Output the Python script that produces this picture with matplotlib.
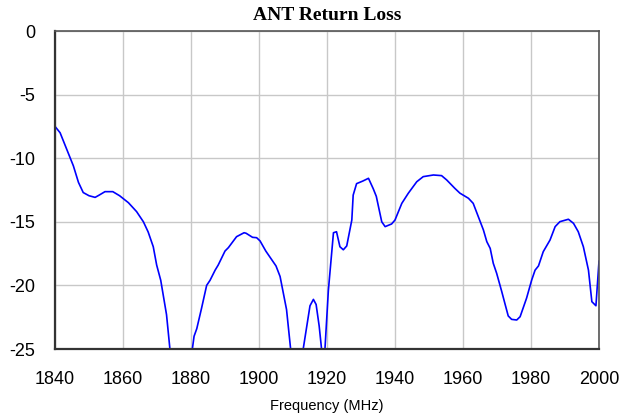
import matplotlib
matplotlib.use("Agg")
import matplotlib.pyplot as plt

freq_mhz = [1840, 1841.5, 1843, 1845.4, 1846.9, 1848.3, 1850, 1851.8, 1853, 1854.7,
            1857, 1859, 1861.6, 1864, 1866, 1867.4, 1868.9, 1869.9, 1871.1, 1872.8,
            1873.8, 1875, 1877, 1879, 1880.4, 1880.9, 1881.7, 1883.1, 1884.6, 1885.6,
            1887.1, 1888, 1890, 1891, 1893.4, 1895.6, 1896.2, 1898.1, 1899.3, 1900.3,
            1902, 1905, 1906.2, 1908.1, 1909.3, 1910.5, 1912, 1913, 1915, 1916,
            1916.8, 1917.7, 1918.4, 1919, 1919.4, 1920.4, 1921.9, 1922.8, 1923.8, 1924.8,
            1925.8, 1927.3, 1927.7, 1928.7, 1930.5, 1932.2, 1933.6, 1934.5, 1936.1, 1937.1,
            1939, 1940, 1942, 1943.9, 1946.4, 1948.3, 1951.3, 1953.7, 1955.2, 1957.6,
            1959.1, 1961.6, 1963, 1966, 1967, 1968, 1968.9, 1969.9, 1971.4, 1972.4,
            1973.3, 1974.3, 1975.8, 1976.8, 1978.7, 1980.2, 1981.2, 1982.2, 1983.6, 1985.6,
            1987.1, 1988.5, 1991, 1992.5, 1993.9, 1995.4, 1996.9, 1997.9, 1999.1, 2000]
return_loss_db = [-7.5, -8.0, -9.0, -10.6, -11.9, -12.7, -12.95, -13.08, -12.9, -12.63,
                  -12.63, -12.95, -13.5, -14.2, -15.0, -15.8, -16.96, -18.4, -19.6, -22.3,
                  -25.0, -27.5, -29.0, -27.5, -25.0, -24.0, -23.4, -21.8, -20.0, -19.6,
                  -18.8, -18.4, -17.3, -17.03, -16.17, -15.86, -15.9, -16.22, -16.25, -16.5,
                  -17.3, -18.47, -19.3, -21.9, -25.0, -27.5, -27.0, -25.0, -21.6, -21.1,
                  -21.5, -23.2, -25.0, -26.0, -25.0, -20.4, -15.86, -15.78, -16.96, -17.2,
                  -16.9, -14.86, -12.9, -12.0, -11.8, -11.58, -12.4, -13.0, -15.0, -15.38,
                  -15.17, -14.86, -13.55, -12.76, -11.85, -11.45, -11.32, -11.37, -11.71, -12.37,
                  -12.75, -13.15, -13.55, -15.64, -16.56, -17.09, -18.26, -19.05, -20.49, -21.5,
                  -22.4, -22.67, -22.72, -22.46, -21.0, -19.58, -18.8, -18.47, -17.35, -16.43,
                  -15.38, -14.99, -14.8, -15.12, -15.78, -16.96, -18.8, -21.28, -21.6, -18.1]
x_ticks = [1840, 1860, 1880, 1900, 1920, 1940, 1960, 1980, 2000]
y_ticks = [0, -5, -10, -15, -20, -25]
title_text = "ANT Return Loss"
x_label = "Frequency (MHz)"

fig = plt.figure(figsize=(6.32, 4.19), dpi=100)
ax = fig.add_axes([55/632, 1 - 349/419, 544/632, 318/419])
ax.plot(freq_mhz, return_loss_db, color="#0000FF", linewidth=1.2)
ax.set_xlim(1840, 2000)
ax.set_ylim(-25, 0)
ax.set_xticks(x_ticks)
ax.set_yticks(y_ticks)
ax.set_xticklabels([str(t) for t in x_ticks], family="Liberation Sans", fontsize=13)
ax.set_yticklabels([str(t) for t in y_ticks], family="Liberation Sans", fontsize=13)
ax.tick_params(axis="x", length=0, pad=16)
ax.tick_params(axis="y", length=0, pad=14)
ax.grid(True, color="#c8c8c8", linewidth=1.0)
ax.set_axisbelow(True)
for side in ["left", "bottom"]:
    ax.spines[side].set_color("#333333")
    ax.spines[side].set_linewidth(1.6)
for side in ["top", "right"]:
    ax.spines[side].set_color("#555555")
    ax.spines[side].set_linewidth(1.2)
ax.set_title(title_text, family="Liberation Serif", fontweight="bold", fontsize=14, pad=8)
ax.set_xlabel(x_label, family="Liberation Sans", fontsize=10.5, labelpad=8)
fig.savefig("out.png", dpi=100)
